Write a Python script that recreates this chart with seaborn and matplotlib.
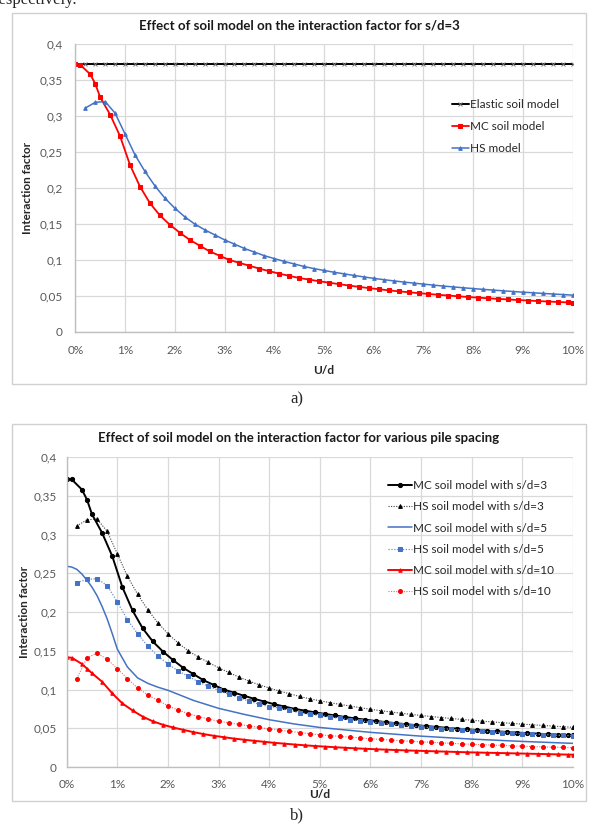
import numpy as np
import pandas as pd
import matplotlib
matplotlib.use("Agg")
import matplotlib.pyplot as plt
from matplotlib.patches import Rectangle
import seaborn as sns

# ---------------- data ----------------
# panel a / panel b share the s/d=3 curves
x_elastic = [0.0, 0.2, 0.4, 0.6, 0.8, 1.0, 1.2, 1.4, 1.6, 1.8, 2.0, 2.2, 2.4, 2.6, 2.8, 3.0,
             3.2, 3.4, 3.6, 3.8, 4.0, 4.2, 4.4, 4.6, 4.8, 5.0, 5.2, 5.4, 5.6, 5.8, 6.0, 6.2,
             6.4, 6.6, 6.8, 7.0, 7.2, 7.4, 7.6, 7.8, 8.0, 8.2, 8.4, 8.6, 8.8, 9.0, 9.2, 9.4,
             9.6, 9.8, 10.0]
y_elastic = [0.372, 0.372, 0.372, 0.372, 0.372, 0.372, 0.372, 0.372, 0.372, 0.372, 0.372,
             0.372, 0.372, 0.372, 0.372, 0.372, 0.372, 0.372, 0.372, 0.372, 0.372, 0.372,
             0.372, 0.372, 0.372, 0.372, 0.372, 0.372, 0.372, 0.372, 0.372, 0.372, 0.372,
             0.372, 0.372, 0.372, 0.372, 0.372, 0.372, 0.372, 0.372, 0.372, 0.372, 0.372,
             0.372, 0.372, 0.372, 0.372, 0.372, 0.372, 0.372]

x_mc = [0.0, 0.1, 0.3, 0.4, 0.5, 0.7, 0.9, 1.1, 1.3, 1.5, 1.7, 1.9, 2.1, 2.3, 2.5, 2.7, 2.9,
        3.1, 3.3, 3.5, 3.7, 3.9, 4.1, 4.3, 4.5, 4.7, 4.9, 5.1, 5.3, 5.5, 5.7, 5.9, 6.1, 6.3,
        6.5, 6.7, 6.9, 7.1, 7.3, 7.5, 7.7, 7.9, 8.1, 8.3, 8.5, 8.7, 8.9, 9.1, 9.3, 9.5, 9.7,
        9.9, 10.0]
mc_sd3 = [0.372, 0.371, 0.358, 0.345, 0.326, 0.302, 0.272, 0.232, 0.202, 0.179, 0.162, 0.149,
          0.138, 0.128, 0.120, 0.112, 0.106, 0.100, 0.096, 0.092, 0.088, 0.0845, 0.081, 0.078,
          0.075, 0.0728, 0.0705, 0.0685, 0.0665, 0.0645, 0.0627, 0.061, 0.0594, 0.0579, 0.0565,
          0.0552, 0.054, 0.0528, 0.0517, 0.0506, 0.0496, 0.0486, 0.0477, 0.0468, 0.046, 0.0452,
          0.0444, 0.0437, 0.043, 0.0423, 0.0417, 0.0411, 0.0408]
mc_sd10 = [0.1415, 0.141, 0.133, 0.127, 0.121, 0.110, 0.095, 0.082, 0.073, 0.065, 0.059, 0.0545,
           0.051, 0.048, 0.045, 0.0425, 0.0403, 0.0385, 0.0367, 0.0352, 0.0338, 0.0325, 0.0312,
           0.0301, 0.029, 0.028, 0.0271, 0.0263, 0.0255, 0.0248, 0.0241, 0.0235, 0.0229, 0.0224,
           0.0219, 0.0214, 0.021, 0.0206, 0.0202, 0.0198, 0.0194, 0.019, 0.0187, 0.0184, 0.0181,
           0.0178, 0.0175, 0.0172, 0.0169, 0.0166, 0.0163, 0.016, 0.0159]

x_hs = [0.2, 0.4, 0.6, 0.8, 1.0, 1.2, 1.4, 1.6, 1.8, 2.0, 2.2, 2.4, 2.6, 2.8, 3.0, 3.2, 3.4,
        3.6, 3.8, 4.0, 4.2, 4.4, 4.6, 4.8, 5.0, 5.2, 5.4, 5.6, 5.8, 6.0, 6.2, 6.4, 6.6, 6.8,
        7.0, 7.2, 7.4, 7.6, 7.8, 8.0, 8.2, 8.4, 8.6, 8.8, 9.0, 9.2, 9.4, 9.6, 9.8, 10.0]
hs_sd3 = [0.311, 0.319, 0.320, 0.304, 0.275, 0.246, 0.223, 0.203, 0.186, 0.172, 0.160, 0.150,
          0.142, 0.135, 0.128, 0.122, 0.116, 0.111, 0.106, 0.102, 0.098, 0.0945, 0.091, 0.088,
          0.0855, 0.083, 0.0808, 0.0786, 0.0765, 0.0745, 0.0727, 0.071, 0.0694, 0.0679, 0.0665,
          0.0651, 0.0638, 0.0626, 0.0614, 0.0603, 0.0592, 0.0582, 0.0572, 0.0562, 0.0553,
          0.0545, 0.0536, 0.0528, 0.052, 0.0512]
hs_sd5 = [0.238, 0.242, 0.243, 0.234, 0.213, 0.190, 0.172, 0.156, 0.143, 0.133, 0.124, 0.117,
          0.110, 0.104, 0.099, 0.094, 0.089, 0.085, 0.081, 0.078, 0.076, 0.073, 0.070, 0.068,
          0.0665, 0.0645, 0.0627, 0.061, 0.0595, 0.058, 0.0566, 0.0553, 0.054, 0.0528, 0.0517,
          0.0506, 0.0496, 0.0486, 0.0477, 0.0468, 0.046, 0.0452, 0.0445, 0.0438, 0.0431,
          0.0425, 0.0419, 0.0413, 0.0407, 0.0402]
hs_sd10 = [0.114, 0.141, 0.147, 0.139, 0.127, 0.114, 0.102, 0.093, 0.086, 0.079, 0.0735, 0.069,
           0.065, 0.062, 0.059, 0.057, 0.055, 0.053, 0.051, 0.049, 0.0475, 0.046, 0.0445, 0.043,
           0.0415, 0.0405, 0.0395, 0.0385, 0.0375, 0.0365, 0.0356, 0.0348, 0.034, 0.0332,
           0.0325, 0.0318, 0.0311, 0.0305, 0.0299, 0.0293, 0.0288, 0.0283, 0.0278, 0.0273,
           0.0268, 0.0264, 0.026, 0.0256, 0.0252, 0.0248]

x_mc5 = [0.0, 0.1, 0.2, 0.3, 0.4, 0.5, 0.6, 0.7, 0.8, 0.9, 1.0, 1.2, 1.4, 1.6, 1.8, 2.0, 2.5,
         3.0, 3.5, 4.0, 4.5, 5.0, 6.0, 7.0, 8.0, 9.0, 10.0]
mc_sd5 = [0.259, 0.258, 0.255, 0.249, 0.241, 0.232, 0.221, 0.207, 0.191, 0.172, 0.152, 0.129,
          0.115, 0.108, 0.103, 0.099, 0.086, 0.0757, 0.068, 0.061, 0.0555, 0.051, 0.0447,
          0.0398, 0.036, 0.033, 0.0305]

x_ticks = [0, 1, 2, 3, 4, 5, 6, 7, 8, 9, 10]
x_ticklabels = ["0%", "1%", "2%", "3%", "4%", "5%", "6%", "7%", "8%", "9%", "10%"]
y_ticks = [0, 0.05, 0.1, 0.15, 0.2, 0.25, 0.3, 0.35, 0.4]
y_ticklabels = ["0", "0,05", "0,1", "0,15", "0,2", "0,25", "0,3", "0,35", "0,4"]

title_a = "Effect of soil model on the interaction factor for s/d=3"
title_b = "Effect of soil model on the interaction factor for various pile spacing"

# ---------------- style ----------------
sns.set_theme(style="white")
plt.rcParams["font.family"] = ["Lato", "DejaVu Sans"]

W, H = 592, 826
fig = plt.figure(figsize=(W / 100, H / 100), dpi=100)
fig.patch.set_facecolor("white")

RED = "#ff0000"
BLUE = "#4472c4"
GRID = "#d9d9d9"
TXT = "#595959"


def px_rect(x0, y0, x1, y1):
    return [x0 / W, 1 - y1 / H, (x1 - x0) / W, (y1 - y0) / H]


def style_axes(ax, pad):
    ax.set_xlim(0, 10)
    ax.set_ylim(0, 0.4)
    ax.set_xticks(x_ticks)
    ax.set_xticklabels(x_ticklabels)
    ax.set_yticks(y_ticks)
    ax.set_yticklabels(y_ticklabels)
    ax.grid(True, color=GRID, linewidth=0.9)
    ax.set_axisbelow(True)
    for s in ["top", "right"]:
        ax.spines[s].set_visible(False)
    for s in ["left", "bottom"]:
        ax.spines[s].set_color("#bfbfbf")
        ax.spines[s].set_linewidth(1.0)
    ax.tick_params(axis="x", length=0, labelsize=8.5, labelcolor=TXT, pad=9)
    ax.tick_params(axis="y", length=0, labelsize=8.5, labelcolor=TXT, pad=pad)
    ax.set_facecolor("white")


def line(ax, x, y, label, **kw):
    d = pd.DataFrame({"x": x, "y": y})
    sns.lineplot(data=d, x="x", y="y", ax=ax, label=label, estimator=None,
                 errorbar=None, sort=False, **kw)


# frames around the two charts
for (x0, y0, x1, y1) in [(12, 13, 586, 384), (12, 424, 586, 801)]:
    fig.patches.append(Rectangle((x0 / W, 1 - y1 / H), (x1 - x0) / W, (y1 - y0) / H,
                                 transform=fig.transFigure, fill=False,
                                 edgecolor="#d0d0d0", linewidth=1.0))

# ---------------- panel a ----------------
axa = fig.add_axes(px_rect(75.3, 44, 572.7, 332))
style_axes(axa, 9)
line(axa, x_elastic, y_elastic, "Elastic soil model", color="black", linewidth=1.4,
     marker="x", markersize=3, markeredgecolor="#777777", markeredgewidth=0.7)
line(axa, x_mc, mc_sd3, "MC soil model", color=RED, linewidth=1.3,
     marker="s", markersize=2.9, markeredgecolor=RED)
line(axa, x_hs, hs_sd3, "HS model", color=BLUE, linewidth=1.1,
     marker="^", markersize=2.6, markeredgecolor=BLUE)
axa.set_xlabel("U/d", fontsize=8.5, fontweight="bold", color="#262626", labelpad=7)
axa.set_ylabel("Interaction factor", fontsize=8.5, fontweight="bold", color="#262626",
               labelpad=5)
la = axa.legend(loc="upper left", bbox_to_anchor=(0.757, 0.81), frameon=False,
                fontsize=8.5, handlelength=1.45, handletextpad=0.1, labelspacing=0.95,
                borderpad=0, borderaxespad=0)
for t in la.get_texts():
    t.set_color("#262626")
fig.text(299 / W, 1 - 25 / H, title_a, ha="center", va="center", fontsize=9.5,
         fontweight="bold", color="#1a1a1a")

# ---------------- panel b ----------------
axb = fig.add_axes(px_rect(66.7, 457, 573, 767))
style_axes(axb, 7)
line(axb, x_mc, mc_sd3, "MC soil model with s/d=3", color="black", linewidth=1.4,
     marker="o", markersize=3, markeredgecolor="black")
line(axb, x_hs, hs_sd3, "HS soil model with s/d=3", color="#404040", linewidth=0.8,
     linestyle=(0, (1, 1.3)), marker="^", markersize=2.7, markeredgecolor="black",
     markerfacecolor="black")
line(axb, x_mc5, mc_sd5, "MC soil model with s/d=5", color=BLUE, linewidth=1.1)
line(axb, x_hs, hs_sd5, "HS soil model with s/d=5", color="#6f8fd0", linewidth=0.9,
     linestyle=(0, (1, 1.3)), marker="s", markersize=3.3, markeredgecolor=BLUE,
     markerfacecolor=BLUE)
line(axb, x_mc, mc_sd10, "MC soil model with s/d=10", color=RED, linewidth=1.4,
     marker="^", markersize=2.5, markeredgecolor=RED)
line(axb, x_hs, hs_sd10, "HS soil model with s/d=10", color="#ff6666", linewidth=0.8,
     linestyle=(0, (1, 1.3)), marker="o", markersize=2.8, markeredgecolor=RED,
     markerfacecolor=RED)
axb.set_xlabel("U/d", fontsize=8.5, fontweight="bold", color="#262626", labelpad=-1)
axb.set_ylabel("Interaction factor", fontsize=8.5, fontweight="bold", color="#262626",
               labelpad=3)
lb = axb.legend(loc="upper left", bbox_to_anchor=(0.6346, 0.925), frameon=False,
                fontsize=8.5, handlelength=2.0, handletextpad=0.1, labelspacing=0.86,
                borderpad=0, borderaxespad=0)
for t in lb.get_texts():
    t.set_color("#262626")
fig.text(299 / W, 1 - 438 / H, title_b, ha="center", va="center", fontsize=9.5,
         fontweight="bold", color="#1a1a1a")

# captions and cut-off text from the page
serif = ["Liberation Serif", "DejaVu Serif"]
fig.text(297 / W, 1 - 399 / H, "a)", ha="center", va="center", fontsize=12, family=serif)
fig.text(297 / W, 1 - 815 / H, "b)", ha="center", va="center", fontsize=12, family=serif)
fig.text(-6 / W, 1 - 4 / H, "respectively.", ha="left", va="baseline", fontsize=12,
         family=serif)

fig.savefig("out.png", dpi=100, facecolor="white")
